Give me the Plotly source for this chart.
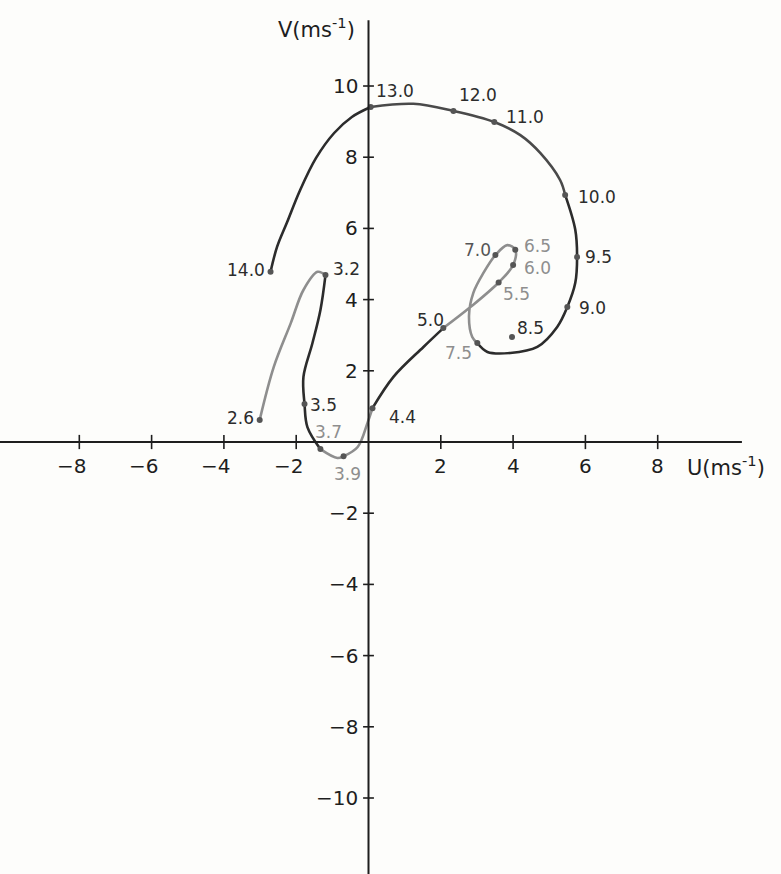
import plotly.graph_objects as go

# Hodograph of the wind vector (U, V) in m/s; times in hours along the trace
path_u = [-3.01, -2.62, -2.15, -1.80, -1.41, -1.19, -1.33, -1.55, -1.80, -1.77,
          -1.69, -1.33, -0.86, -0.69, -0.30, -0.03, 0.11, 0.69, 1.52, 2.07,
          2.82, 3.60, 4.00, 4.06, 3.84, 3.51, 3.18, 2.90, 2.78, 2.87,
          3.01, 3.29, 3.92, 4.67, 5.22, 5.50, 5.72, 5.77, 5.72, 5.44,
          5.30, 4.75, 4.20, 3.48, 2.35, 1.24, 0.06, -0.46, -0.95, -1.45,
          -1.89, -2.25, -2.53, -2.71]
path_v = [0.62, 2.11, 3.34, 4.27, 4.78, 4.69, 3.71, 2.78, 1.83, 1.07,
          0.42, -0.20, -0.45, -0.40, -0.14, 0.53, 0.95, 1.83, 2.67, 3.20,
          3.79, 4.48, 4.97, 5.40, 5.53, 5.25, 4.75, 4.19, 3.55, 2.95,
          2.78, 2.53, 2.50, 2.67, 3.23, 3.79, 4.47, 5.20, 5.96, 6.94,
          7.36, 8.12, 8.62, 8.99, 9.30, 9.50, 9.41, 9.13, 8.68, 7.98,
          7.08, 6.18, 5.48, 4.78]

# Labelled times and their wind components
time_labels = ["2.6", "3.2", "3.5", "3.7", "3.9", "4.4", "5.0", "5.5", "6.0", "6.5",
               "7.0", "7.5", "8.5", "9.0", "9.5", "10.0", "11.0", "12.0", "13.0", "14.0"]
time_u = [-3.01, -1.19, -1.77, -1.33, -0.69, 0.11, 2.07, 3.60, 4.00, 4.06,
          3.51, 3.01, 3.97, 5.50, 5.77, 5.44, 3.48, 2.35, 0.06, -2.71]
time_v = [0.62, 4.69, 1.07, -0.20, -0.40, 0.95, 3.20, 4.48, 4.97, 5.40,
          5.25, 2.78, 2.95, 3.79, 5.20, 6.94, 8.99, 9.30, 9.41, 4.78]

x_ticks = [-8, -6, -4, -2, 2, 4, 6, 8]
y_ticks = [-10, -8, -6, -4, -2, 2, 4, 6, 8, 10]

DARK = "#2c2c2c"
MID = "#4a4a4a"
GREY = "#8e8e8e"
AXIS = "#1e1e1e"
FONT = "DejaVu Sans"

# pieces of the trace (index ranges into the path) and their ink
segments = [(0, 5, GREY), (5, 11, DARK), (11, 16, GREY), (16, 19, DARK),
            (19, 30, GREY), (30, 39, DARK), (39, 46, MID), (46, 53, DARK)]

# label offsets in pixels (right, down) from each dot, and label ink
label_style = {
    "2.6": (-19, -2, DARK), "3.2": (21, -6, DARK), "3.5": (19, 1, DARK),
    "3.7": (8, -17, GREY), "3.9": (4, 18, GREY), "4.4": (30, 9, DARK),
    "5.0": (-13, -8, DARK), "5.5": (18, 11, GREY), "6.0": (24, 3, GREY),
    "6.5": (22, -4, GREY), "7.0": (-18, -5, "#555555"), "7.5": (-19, 10, GREY),
    "8.5": (18, -9, DARK), "9.0": (25, 1, DARK), "9.5": (21, 0, DARK),
    "10.0": (32, 2, DARK), "11.0": (31, -5, DARK), "12.0": (25, -16, DARK),
    "13.0": (24, -16, DARK), "14.0": (-25, -2, DARK),
}

fig = go.Figure()

for a, b, col in segments:
    fig.add_trace(go.Scatter(
        x=path_u[a:b + 1], y=path_v[a:b + 1], mode="lines",
        line=dict(color=col, width=2.6, shape="spline", smoothing=1.0),
        hoverinfo="skip", showlegend=False))

fig.add_trace(go.Scatter(
    x=time_u, y=time_v, mode="markers",
    marker=dict(size=6, color="#555555"), hoverinfo="skip", showlegend=False))

annotations = []
for lab, u, v in zip(time_labels, time_u, time_v):
    dx, dy, col = label_style[lab]
    annotations.append(dict(x=u, y=v, text=lab, showarrow=False,
                            xshift=dx, yshift=-dy,
                            font=dict(family=FONT, size=17, color=col)))


def tick_text(t):
    return ("\u2212" + str(-t)) if t < 0 else str(t)


# axes crossing at the origin
shapes = [
    dict(type="line", x0=-10.3, x1=10.33, y0=0, y1=0,
         line=dict(color=AXIS, width=2)),
    dict(type="line", x0=0, x1=0, y0=11.85, y1=-12.3,
         line=dict(color=AXIS, width=2)),
]
for t in x_ticks:
    shapes.append(dict(type="line", x0=t, x1=t, y0=-0.2, y1=0.2,
                       line=dict(color=AXIS, width=1.6)))
    annotations.append(dict(x=t, y=0, text=tick_text(t), showarrow=False,
                            yshift=-24, xshift=-8 if t < 0 else 0,
                            font=dict(family=FONT, size=20, color=AXIS)))
for t in y_ticks:
    shapes.append(dict(type="line", x0=-0.15, x1=0.15, y0=t, y1=t,
                       line=dict(color=AXIS, width=1.6)))
    annotations.append(dict(x=0, y=t, text=tick_text(t), showarrow=False,
                            xanchor="right", xshift=-9,
                            font=dict(family=FONT, size=20, color=AXIS)))

annotations.append(dict(x=0, y=11.63, text="V(ms<sup>-1</sup>)", showarrow=False,
                        xanchor="right", xshift=-12,
                        font=dict(family=FONT, size=21, color=AXIS)))
annotations.append(dict(x=8.76, y=0, text="U(ms<sup>-1</sup>)", showarrow=False,
                        xanchor="left", yshift=-24,
                        font=dict(family=FONT, size=21, color=AXIS)))

fig.update_layout(
    width=781, height=874, autosize=False,
    margin=dict(l=0, r=0, t=0, b=0),
    paper_bgcolor="#fdfdfb", plot_bgcolor="#fdfdfb",
    xaxis=dict(range=[-10.194, 11.411], visible=False, fixedrange=True),
    yaxis=dict(range=[-12.135, 12.416], visible=False, fixedrange=True),
    shapes=shapes, annotations=annotations,
)

fig.write_html("out.html")
